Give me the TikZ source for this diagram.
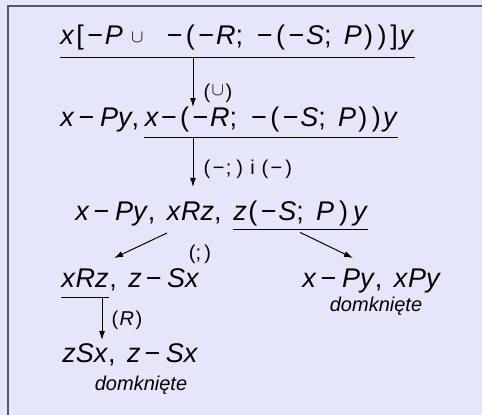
\documentclass[tikz,border=0pt]{standalone}
\usepackage{fontspec}
\setmainfont{Liberation Sans}
\usetikzlibrary{arrows.meta,positioning}
\definecolor{pagebg}{HTML}{E6E6FA}
\definecolor{framegray}{HTML}{55556A}
\newcommand{\V}[1]{\textit{#1}}
\newcommand{\mn}{\makebox[0.72em]{−}}
\newcommand{\bmn}{\hspace{0.08em}\mn\hspace{0.14em}}
\newcommand{\lp}{\makebox[0.45em]{(}}
\newcommand{\rp}{\makebox[0.5em]{)}}
\newcommand{\lb}{\makebox[0.4em]{[}}
\newcommand{\rb}{\makebox[0.4em]{]}}
\newcommand{\sepc}{,\hspace{0.42em}}
\newcommand{\seps}{;\hspace{0.45em}}
\newcommand{\cupsign}{\raisebox{1.2pt}{\fontsize{9}{10}\selectfont$\cup$}}

\begin{document}
\begin{tikzpicture}[
  x=0.5pt, y=-0.5pt,
  >=Latex,
  term/.style={inner sep=0pt, anchor=base west, font=\fontsize{13.5}{16}\selectfont},
  uterm/.style={term, text depth=5pt},
  uline/.style={draw=black, line width=0.5pt},
  arrow/.style={-{Latex[length=4.5pt,width=3pt]}, draw=black, line width=0.5pt},
  rule/.style={inner sep=0pt, font=\fontsize{10}{12}\selectfont},
  note/.style={inner sep=0pt, anchor=base, font=\fontsize{10}{12}\selectfont\itshape},
  frame/.style={draw=framegray, line width=1pt}
]
\fill[pagebg] (0,0) rectangle (482,415);
\useasboundingbox (0,0) rectangle (482,415);
\draw[frame] (8,416) -- (8,6) -- (483,6);

\coordinate (stemA) at (193,0);
\coordinate (tipB) at (193,187);
\coordinate (forkL) at (167,233);
\coordinate (tipL) at (114,258);
\coordinate (forkR) at (300,0);
\coordinate (tipR) at (353,258);
\coordinate (stemC) at (102,0);
\coordinate (tipC) at (102,340);

\node[uterm, text depth=6pt] (l1) at (60,45) {\V{x}\lb\mn\V{P}\hspace{0.3em}\cupsign\hspace{0.8em}\mn\lp\mn\V{R}\seps\mn\lp\mn\V{S}\seps\V{P}\rp\rp\rb\V{y}};
\draw[uline] (l1.south west) -- (l1.south east);

\node[term] (l2a) at (60,127) {\V{x}\bmn\V{P}\V{y},};
\node[uterm, base right=2.5pt of l2a] (l2b) {\V{x}\mn\lp\mn\V{R}\seps\mn\lp\mn\V{S}\seps\V{P}\rp\rp\V{y}};
\draw[uline] (l2b.south west) -- (l2b.south east);

\node[term] (l3a) at (75,221) {\V{x}\bmn\V{P}\V{y}\sepc\V{x}\V{R}\V{z},};
\node[uterm, text depth=4pt, base right=5.5pt of l3a] (l3b) {\V{z}\lp\mn\V{S}\seps\V{P}\hspace{0.1em}\rp\hspace{0.1em}\V{y}};
\draw[uline] (l3b.south west) -- (l3b.south east);

\node[uterm, text depth=4.5pt] (l4a) at (61,288) {\V{x}\V{R}\V{z}};
\draw[uline] (l4a.south west) -- (l4a.south east);
\node[term, base right=0pt of l4a] (l4b) {\sepc\V{z}\bmn\V{S}\V{x}};
\node[term] (l4c) at (302,288) {\V{x}\bmn\V{P}\V{y}\sepc\V{x}\V{P}\V{y}};
\node[note] (closedR) at (376,312) {domknięte};

\node[term] (l5) at (62,363) {\V{z}\V{S}\V{x}\sepc\V{z}\bmn\V{S}\V{x}};
\node[note] (closedL) at (141,391) {domknięte};

\draw[arrow] (l1.south -| stemA) -- (l2b.north -| stemA) node[rule, pos=0.72, right=4.5pt] {\lp\cupsign\rp};
\draw[arrow] (l2b.south -| stemA) -- (tipB) node[rule, pos=0.64, right=4.5pt] {\lp\mn;\,\rp{} i \lp\mn\rp};
\draw[arrow] (forkL) -- (tipL);
\draw[arrow] ([yshift=-1.5pt]l3b.south -| forkR) -- (tipR);
\node[rule] (forklbl) at (200,254) {(;\,)};
\draw[arrow] (l4a.south -| stemC) -- (tipC) node[rule, pos=0.53, right=4pt] {\lp\V{R}\rp};

\end{tikzpicture}
\end{document}
